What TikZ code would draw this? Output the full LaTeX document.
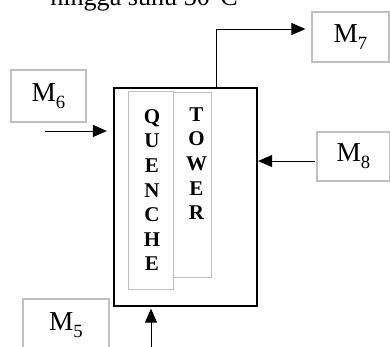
\documentclass[tikz,border=0pt]{standalone}
\usepackage{fontspec}
\setmainfont{Liberation Serif}
\usetikzlibrary{arrows.meta}
\definecolor{boxgray}{RGB}{192,192,192}
\newcommand{\Msub}[1]{M\raisebox{-0.25em}{\fontsize{14pt}{15pt}\selectfont #1}}
\newcommand{\vstack}[1]{\begin{tabular}{@{}c@{}}#1\end{tabular}}
\begin{document}
\begin{tikzpicture}[x=0.75pt,y=-0.75pt,
  labelbox/.style={draw=boxgray,line width=0.9pt,inner sep=0pt,
    font=\fontsize{20.5pt}{22pt}\selectfont},
  columnbox/.style={draw=boxgray,line width=0.9pt,inner sep=0pt,anchor=north west},
  vessel/.style={draw=black,line width=1.7pt,inner sep=0pt},
  flow/.style={line width=0.75pt,-{Triangle[length=10.5pt,width=9pt]}},
  letters/.style={font=\fontsize{15.75pt}{18.4pt}\selectfont\bfseries,inner sep=0pt,anchor=north}]
\useasboundingbox (0,0) rectangle (390,347);
\clip (0,0) rectangle (390,347);

% caption line running off the top
\node[anchor=base west,inner sep=0pt,font=\fontsize{19.6pt}{22pt}\selectfont]
  (caption) at (50,5) {hingga suhu 30°C};

% quench tower vessel
\node[vessel,minimum width=143*0.75pt,minimum height=218*0.75pt] (vessel) at (185.5,197) {};

% inner columns
\node[columnbox,minimum width=45*0.75pt,minimum height=198*0.75pt] (quench) at (128,91) {};
\node[columnbox,minimum width=38*0.75pt,minimum height=185*0.75pt] (tower) at (173,92) {};
\node[letters] (quenchtext) at (152,106) {\vstack{Q\\U\\E\\N\\C\\H\\E}};
\node[letters] (towertext) at (196.5,104) {\vstack{T\\O\\W\\E\\R}};

% stream labels
\node[labelbox,minimum width=77*0.75pt,minimum height=50*0.75pt] (m7) at (350.5,37) {\Msub{7}};
\node[labelbox,minimum width=75*0.75pt,minimum height=52*0.75pt] (m6) at (48.5,96) {\Msub{6}};
\node[labelbox,minimum width=73*0.75pt,minimum height=49*0.75pt] (m8) at (353.5,156.5) {\Msub{8}};
\node[labelbox,minimum width=86*0.75pt,minimum height=52*0.75pt] (m5) at (66,325) {\Msub{5}};

% stream lines
\coordinate (m6start) at (45,131);
\coordinate (m8start) at (315,161);
\coordinate (m5start) at (151,350);
\coordinate (m7rise) at (216,29);
\draw[flow,shorten >=6*0.75pt] (m6start) -- (m6start -| vessel.west);
\draw[flow] (m8start) -- (m8start -| vessel.east);
\draw[flow,shorten >=1.5*0.75pt] (m5start) -- (m5start |- vessel.south);
\draw[flow,shorten >=6*0.75pt] (m7rise |- vessel.north) -- (m7rise) -- (m7rise -| m7.west);
\end{tikzpicture}
\end{document}
